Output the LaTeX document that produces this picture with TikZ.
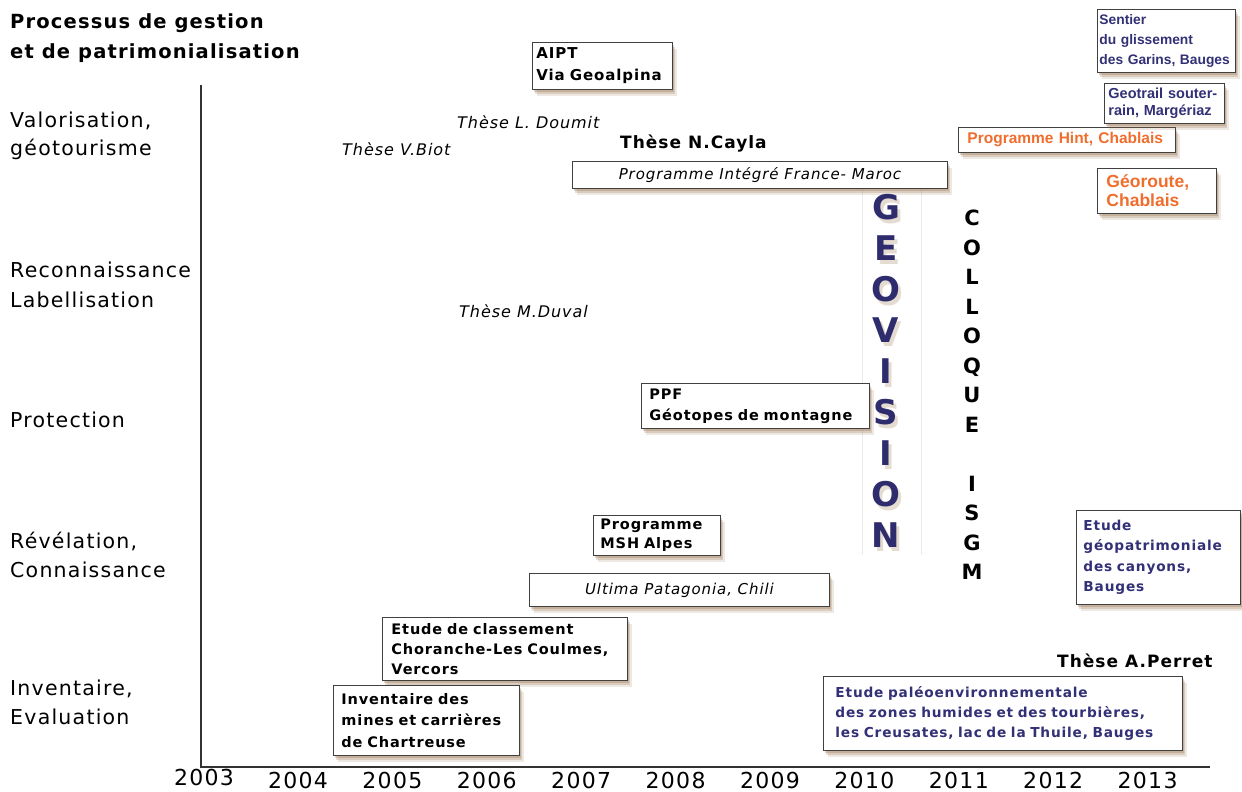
\documentclass[tikz,border=0pt]{standalone}
\usepackage{fontspec}
\setmainfont{DejaVu Sans}[LetterSpace=6]
\newfontfamily\libsans{Liberation Sans}
\usetikzlibrary{shadows}
\definecolor{navy}{RGB}{50,48,118}
\definecolor{orng}{RGB}{240,110,45}
\definecolor{shadc}{RGB}{135,95,50}
\definecolor{geoc}{RGB}{46,44,108}
\newcommand{\fs}[2]{\fontsize{#1}{#2}\selectfont}
\hyphenpenalty=10000 \exhyphenpenalty=10000
\tikzset{
  shd/.style={drop shadow={shadow xshift=4.5pt,shadow yshift=-7pt,fill=shadc,opacity=.14},
              drop shadow={shadow xshift=3pt,shadow yshift=-4.5pt,fill=shadc,opacity=.2},
              drop shadow={shadow xshift=1.5pt,shadow yshift=-2.5pt,fill=shadc,opacity=.25}},
  bx/.style={draw=black!75, line width=0.9pt, fill=white, anchor=north west,
             inner xsep=0pt, inner ysep=0pt, align=left, shd},
  lab/.style={anchor=base west, inner sep=0pt, font=\fs{20.5}{24}},
  ttl/.style={anchor=base west, inner sep=0pt, font=\fs{19.5}{24}\bfseries},
  ital/.style={anchor=base west, inner sep=0pt, font=\fs{16}{18}\itshape},
  thb/.style={anchor=base west, inner sep=0pt, font=\fs{17}{20}\bfseries},
  yr/.style={anchor=base, inner sep=0pt, font=\fs{22}{24}},
  geol/.style={inner sep=0pt, font=\fs{34}{36}\bfseries, text=geoc, text height=24.5pt, text depth=0pt},
  geosh/.style={inner sep=0pt, font=\fs{34}{36}\bfseries, text=shadc, text height=24.5pt, text depth=0pt},
  coll/.style={inner sep=0pt, font=\fs{21}{24}\bfseries, text height=15pt, text depth=0pt},
  axis/.style={line width=1.4pt, draw=black!80},
}
\begin{document}
\begin{tikzpicture}[x=1pt,y=-1pt]
\useasboundingbox[fill=white] (0,0) rectangle (1242,792);

% axes
\coordinate (top) at (201,85);
\coordinate (orig) at (201,767);
\coordinate (xend) at (1210,767);
\draw[axis] (top) -- (orig) -- (xend);

% years
\node[yr] (y2003) at (204,785) {2003};
\foreach \yr [count=\i from 0] in {2004,2005,2006,2007,2008,2009,2010,2011,2012,2013}
  \node[yr] (y\yr) at ({298+94.4*\i},788) {\yr};

% left labels
\node[ttl] (t1) at (10,29) {Processus de gestion};
\node[ttl] (t2) at (10,59) {et de patrimonialisation};
\node[lab] (l1a) at (10,127) {Valorisation,};
\node[lab] (l1b) at (10,155) {géotourisme};
\node[lab] (l2a) at (10,277) {Reconnaissance};
\node[lab] (l2b) at (10,307) {Labellisation};
\node[lab] (l3) at (10,427) {Protection};
\node[lab] (l4a) at (10,548) {Révélation,};
\node[lab] (l4b) at (10,577) {Connaissance};
\node[lab] (l5a) at (10,695) {Inventaire,};
\node[lab] (l5b) at (10,724) {Evaluation};

% theses
\node[ital] (doumit) at (457,128) {Thèse L. Doumit};
\node[ital] (biot) at (342,155) {Thèse V.Biot};
\node[ital] (duval) at (459,317) {Thèse M.Duval};
\node[thb] (cayla) at (620,148) {Thèse N.Cayla};
\node[thb] (perret) at (1057,667) {Thèse A.Perret};

% GEOVISION backdrop
\draw[black!8, line width=0.6pt] (862,188) -- (862,555);
\draw[black!8, line width=0.6pt] (921,188) -- (921,555);
\draw[line width=1.3pt, black!85] (862,188) -- (921,188);

% boxes
\node[bx, minimum width=375pt, minimum height=27pt, align=center, font=\fs{15}{18}\itshape]
  (pifm) at (572,161) {Programme Intégré France- Maroc};
\node[bx, minimum width=140pt, minimum height=47pt, text width=132pt, font=\fs{15}{22}\bfseries]
  (aipt) at (532,42) {AIPT\\Via Geoalpina};
\node[bx, minimum width=217pt, minimum height=25pt, text width=199pt, font=\libsans\fs{15.5}{18}\bfseries, text=orng]
  (hint) at (958,127) {Programme Hint, Chablais};
\node[bx, minimum width=138pt, minimum height=63pt, text width=134pt, font=\libsans\fs{13.8}{20}\bfseries, text=navy]
  (sentier) at (1097,9) {Sentier\\du glissement\\des Garins, Bauges};
\node[bx, minimum width=120pt, minimum height=40pt, text width=112pt, font=\libsans\fs{14.5}{17}\bfseries, text=navy]
  (geotrail) at (1104,83) {Geotrail souter-\\rain, Margériaz};
\node[bx, minimum width=119pt, minimum height=45pt, text width=101pt, font=\libsans\fs{17.5}{19}\bfseries, text=orng]
  (georoute) at (1097,168) {Géoroute,\\Chablais};
\node[bx, minimum width=228pt, minimum height=45pt, text width=212pt, font=\fs{14.5}{21}\bfseries]
  (ppf) at (641,383) {PPF\\Géotopes de montagne};
\node[bx, minimum width=127pt, minimum height=40pt, text width=113pt, font=\fs{14.5}{19}\bfseries]
  (msh) at (593,515) {Programme\\MSH Alpes};
\node[bx, minimum width=300pt, minimum height=33pt, align=center, font=\fs{15}{18}\itshape]
  (ultima) at (529,573) {Ultima Patagonia, Chili};
\node[bx, minimum width=245pt, minimum height=63pt, text width=227pt, font=\fs{14.5}{20}\bfseries]
  (classement) at (382,617) {Etude de classement\\Choranche-Les Coulmes,\\Vercors};
\node[bx, minimum width=186pt, minimum height=70pt, text width=170pt, font=\fs{14.5}{21.5}\bfseries]
  (inventaire) at (333,685) {Inventaire des\\mines et carrières\\de Chartreuse};
\node[bx, minimum width=359pt, minimum height=74pt, text width=335pt, font=\fs{13.7}{20}\bfseries, text=navy]
  (paleo) at (823,676) {Etude paléoenvironnementale\\des zones humides et des tourbières,\\les Creusates, lac de la Thuile, Bauges};
\node[bx, minimum width=164pt, minimum height=94pt, text width=150pt, font=\fs{13.7}{20.5}\bfseries, text=navy]
  (geopat) at (1076,510) {Etude\\géopatrimoniale\\des canyons,\\Bauges};

% GEOVISION
\foreach \l [count=\i from 0] in {G,E,O,V,I,S,I,O,N} {
  \node[geosh, opacity=.22] (gs\i) at ({889},{211+41*\i}) {\l};
  \node[geol] (g\i) at (886,{207+41*\i}) {\l};
}

% COLLOQUE ISGM
\foreach \l/\k [count=\i] in {C/0,O/1,L/2,L/3,O/4,Q/5,U/6,E/7,I/9,S/10,G/11,M/12}
  \node[coll] (c\i) at (972,{218+29.5*\k}) {\l};

\end{tikzpicture}
\end{document}
